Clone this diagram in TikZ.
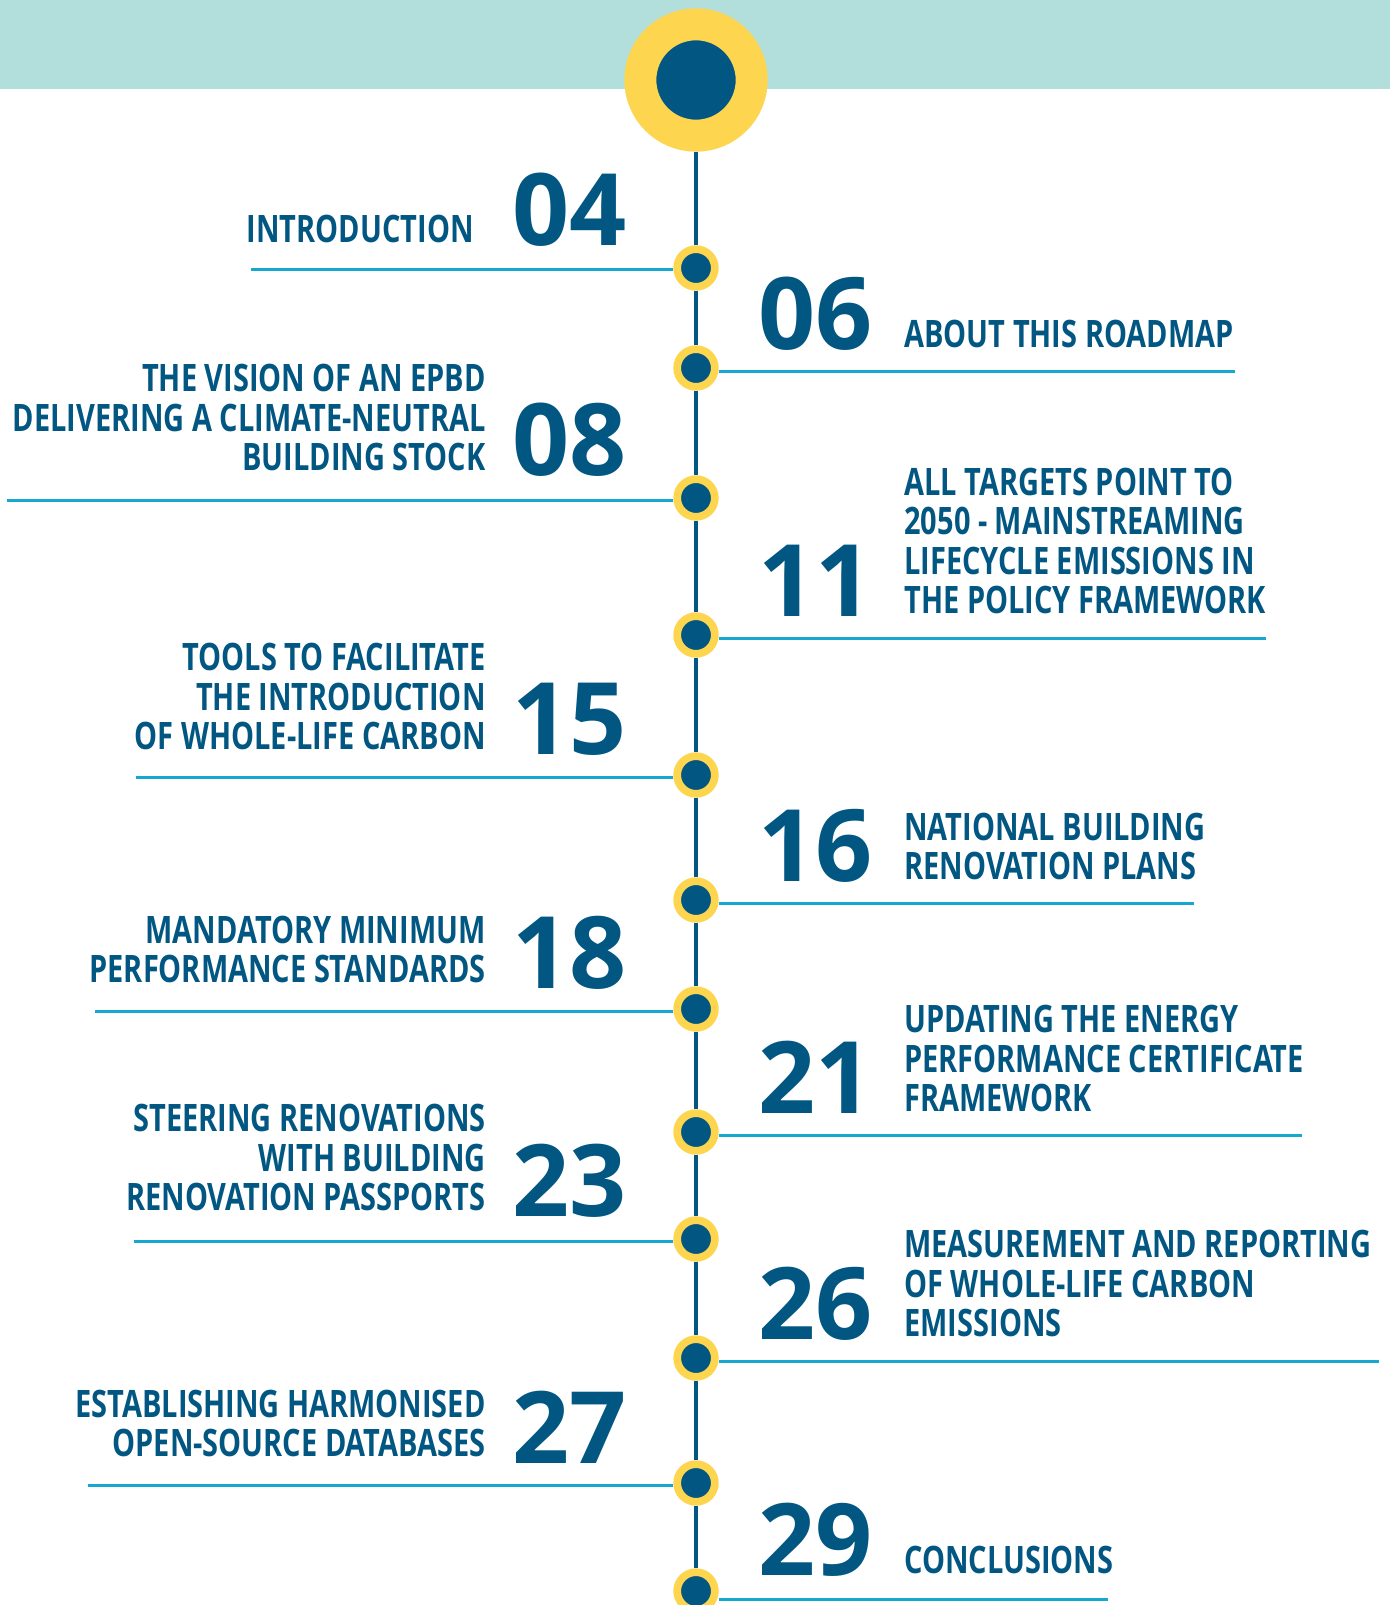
\documentclass[tikz,border=0pt]{standalone}
\usepackage{fontspec}
\newfontfamily\numfont{Open Sans}
\newfontfamily\labfont{Open Sans}[FakeStretch=0.766]

\definecolor{roadblue}{RGB}{2,87,130}
\definecolor{roadyellow}{RGB}{253,213,79}
\definecolor{roadband}{RGB}{178,223,219}
\definecolor{roadline}{RGB}{22,168,206}

\begin{document}
\begin{tikzpicture}[x=0.5pt,y=-0.5pt,
    bigdot/.style={circle, fill=roadblue, draw=roadyellow, line width=16pt, minimum size=55.7pt, inner sep=0},
    dot/.style={circle, fill=roadblue, draw=roadyellow, line width=3.85pt, minimum size=18.85pt, inner sep=0},
    spine/.style={roadblue, line width=2.25pt},
    rule/.style={roadline, line width=1.5pt},
    num/.style={font=\numfont\bfseries\fontsize{50}{50}\selectfont, text=roadblue, inner sep=0},
    lab/.style={font=\labfont\bfseries\fontsize{18.9}{19.75}\selectfont, text=roadblue, inner sep=0, text depth=0pt}]
  \useasboundingbox (0,0) rectangle (1390,1605);

  % Header band
  \fill[roadband] (0,0) rectangle (1390,89);
  \node[bigdot] (top) at (696,80) {};

  % Dots on the time line
  \node[dot] (d04) at (696,268) {};
  \node[dot] (d06) at (696,368) {};
  \node[dot] (d08) at (696,498) {};
  \node[dot] (d11) at (696,635) {};
  \node[dot] (d15) at (696,775) {};
  \node[dot] (d16) at (696,900) {};
  \node[dot] (d18) at (696,1009) {};
  \node[dot] (d21) at (696,1132) {};
  \node[dot] (d23) at (696,1239) {};
  \node[dot] (d26) at (696,1358) {};
  \node[dot] (d27) at (696,1483) {};
  \node[dot] (d29) at (696,1591) {};

  % Spine
  \draw[spine] (top) -- (d04) (d04) -- (d06) (d06) -- (d08) (d08) -- (d11)
    (d11) -- (d15) (d15) -- (d16) (d16) -- (d18) (d18) -- (d21)
    (d21) -- (d23) (d23) -- (d26) (d26) -- (d27) (d27) -- (d29);

  % Rule ends
  \coordinate (e04) at (251,269);
  \coordinate (e06) at (1235,371);
  \coordinate (e08) at (7,500);
  \coordinate (e11) at (1266,638);
  \coordinate (e15) at (136,777);
  \coordinate (e16) at (1194,903);
  \coordinate (e18) at (95,1011);
  \coordinate (e21) at (1302,1135);
  \coordinate (e23) at (134,1241);
  \coordinate (e26) at (1379,1361);
  \coordinate (e27) at (88,1485);
  \coordinate (e29) at (1108,1599);

  % Rules
  \draw[rule] (d04.west |- e04) -- (e04);
  \draw[rule] (d06.east |- e06) -- (e06);
  \draw[rule] (d08.west |- e08) -- (e08);
  \draw[rule] (d11.east |- e11) -- (e11);
  \draw[rule] (d15.west |- e15) -- (e15);
  \draw[rule] (d16.east |- e16) -- (e16);
  \draw[rule] (d18.west |- e18) -- (e18);
  \draw[rule] (d21.east |- e21) -- (e21);
  \draw[rule] (d23.west |- e23) -- (e23);
  \draw[rule] (d26.east |- e26) -- (e26);
  \draw[rule] (d27.west |- e27) -- (e27);
  \draw[rule] (d29.east |- e29) -- (e29);

  % Page numbers
  \node[num, anchor=base east] (n04) at (627,246) {04};
  \node[num, anchor=base west] (n06) at (758,349) {06};
  \node[num, anchor=base east] (n08) at (627,475) {08};
  \node[num, anchor=base west] (n11) at (758,616) {11};
  \node[num, anchor=base east] (n15) at (627,754) {15};
  \node[num, anchor=base west] (n16) at (758,881) {16};
  \node[num, anchor=base east] (n18) at (627,988) {18};
  \node[num, anchor=base west] (n21) at (758,1113) {21};
  \node[num, anchor=base east] (n23) at (627,1216) {23};
  \node[num, anchor=base west] (n26) at (758,1339) {26};
  \node[num, anchor=base east] (n27) at (627,1463) {27};
  \node[num, anchor=base west] (n29) at (758,1575) {29};

  % Chapter titles
  \node[lab, align=right, anchor=south east] (t04) at (474,243) {INTRODUCTION};
  \node[lab, align=left, anchor=south west] (t06) at (904,348) {ABOUT THIS ROADMAP};
  \node[lab, align=right, anchor=south east] (t08) at (486,471) {THE VISION OF AN EPBD\\DELIVERING A CLIMATE-NEUTRAL\\BUILDING STOCK};
  \node[lab, align=left, anchor=south west] (t11) at (904,614) {ALL TARGETS POINT TO\\2050 - MAINSTREAMING\\LIFECYCLE EMISSIONS IN\\THE POLICY FRAMEWORK};
  \node[lab, align=right, anchor=south east] (t15) at (486,750) {TOOLS TO FACILITATE\\THE INTRODUCTION\\OF WHOLE-LIFE CARBON};
  \node[lab, align=left, anchor=south west] (t16) at (904,880) {NATIONAL BUILDING\\RENOVATION PLANS};
  \node[lab, align=right, anchor=south east] (t18) at (486,983) {MANDATORY MINIMUM\\PERFORMANCE STANDARDS};
  \node[lab, align=left, anchor=south west] (t21) at (904,1112) {UPDATING THE ENERGY\\PERFORMANCE CERTIFICATE\\FRAMEWORK};
  \node[lab, align=right, anchor=south east] (t23) at (486,1211) {STEERING RENOVATIONS\\WITH BUILDING\\RENOVATION PASSPORTS};
  \node[lab, align=left, anchor=south west] (t26) at (904,1337) {MEASUREMENT AND REPORTING\\OF WHOLE-LIFE CARBON\\EMISSIONS};
  \node[lab, align=right, anchor=south east] (t27) at (486,1457) {ESTABLISHING HARMONISED\\OPEN-SOURCE DATABASES};
  \node[lab, align=left, anchor=south west] (t29) at (904,1574) {CONCLUSIONS};
\end{tikzpicture}
\end{document}
